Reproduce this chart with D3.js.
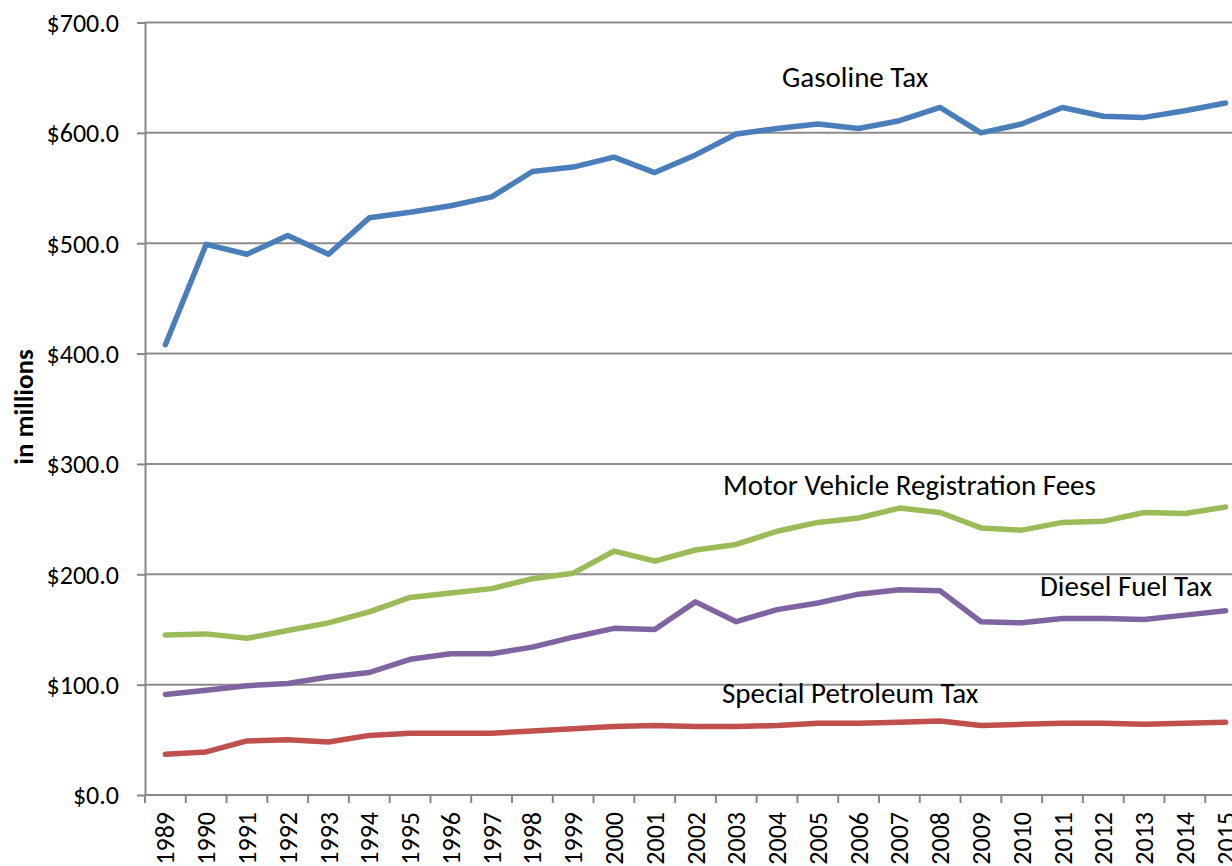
<!DOCTYPE html>
<html>
<head>
<meta charset="utf-8">
<script src="https://cdn.jsdelivr.net/npm/d3@7"></script>
<style>
  body { margin: 0; background: #fff; overflow: hidden; }
  svg { display: block; font-family: Carlito, Calibri, "Open Sans", sans-serif; }
  .axis path, .axis line { stroke: #878787; stroke-width: 2; }
  .axis text { fill: #000; font-size: 26px; font-family: Carlito, Calibri, "Open Sans", sans-serif; }
  .grid line { stroke: #8c8c8c; stroke-width: 2; }
  .series { fill: none; stroke-width: 5.5; stroke-linejoin: round; stroke-linecap: round; }
  .label { font-size: 29px; fill: #000; }
</style>
</head>
<body>
<div id="chart"></div>
<script>
var years = [1989, 1990, 1991, 1992, 1993, 1994, 1995, 1996, 1997, 1998, 1999, 2000, 2001, 2002,
  2003, 2004, 2005, 2006, 2007, 2008, 2009, 2010, 2011, 2012, 2013, 2014, 2015];

var gasolineTax = [408, 499, 490, 507, 490, 523, 528, 534, 542, 565, 569, 578, 564, 580,
  599, 604, 608, 604, 611, 623, 600, 608, 623, 615, 614, 620, 627];

var motorVehicleFees = [145, 146, 142, 149, 156, 166, 179, 183, 187, 196, 201, 221, 212, 222,
  227, 239, 247, 251, 260, 256, 242, 240, 247, 248, 256, 255, 261];

var dieselFuelTax = [91, 95, 99, 101, 107, 111, 123, 128, 128, 134, 143, 151, 150, 175,
  157, 168, 174, 182, 186, 185, 157, 156, 160, 160, 159, 163, 167];

var specialPetroleumTax = [37, 39, 49, 50, 48, 54, 56, 56, 56, 58, 60, 62, 63, 62,
  62, 63, 65, 65, 66, 67, 63, 64, 65, 65, 64, 65, 66];

var yTicks = [0, 100, 200, 300, 400, 500, 600, 700];

var series = [
  {name: 'Gasoline Tax', values: gasolineTax, color: '#4a7ebb', lx: 782, ly: 87},
  {name: 'Motor Vehicle Registration Fees', values: motorVehicleFees, color: '#9bbb59', lx: 723, ly: 495},
  {name: 'Diesel Fuel Tax', values: dieselFuelTax, color: '#8064a2', lx: 1040, ly: 596},
  {name: 'Special Petroleum Tax', values: specialPetroleumTax, color: '#c0504d', lx: 722, ly: 703}
];

var width = 1232, height = 866;
var margin = {top: 22.5, left: 145, bottom: 71};
var plotH = height - margin.top - margin.bottom;
var plotRight = 1246;

var x = d3.scaleBand()
    .domain(years)
    .range([margin.left, plotRight]);

var y = d3.scaleLinear()
    .domain([0, 700])
    .range([margin.top + plotH, margin.top]);

var svg = d3.select('#chart').append('svg')
    .attr('width', width)
    .attr('height', height);

// gridlines
svg.append('g')
    .attr('class', 'grid')
  .selectAll('line')
    .data(yTicks.slice(1))
  .enter().append('line')
    .attr('x1', margin.left)
    .attr('x2', plotRight)
    .attr('y1', d => y(d))
    .attr('y2', d => y(d));

var yAxis = d3.axisLeft(y)
    .tickValues(yTicks)
    .tickSize(8)
    .tickSizeOuter(0)
    .tickPadding(18)
    .tickFormat(d => '$' + d3.format('.1f')(d));

svg.append('g')
    .attr('class', 'y axis')
    .attr('transform', 'translate(' + margin.left + ',0)')
    .call(yAxis)
  .selectAll('text')
    .attr('dy', '0.34em');

// x axis: ticks sit on band boundaries, labels on band centres
var xAxisG = svg.append('g')
    .attr('class', 'x axis')
    .attr('transform', 'translate(0,' + y(0) + ')');

xAxisG.append('line')
    .attr('x1', margin.left)
    .attr('x2', plotRight);

xAxisG.selectAll('.tick-mark')
    .data(years)
  .enter().append('line')
    .attr('class', 'tick-mark')
    .attr('x1', d => x(d))
    .attr('x2', d => x(d))
    .attr('y1', 0)
    .attr('y2', 8);

xAxisG.selectAll('text')
    .data(years)
  .enter().append('text')
    .attr('transform', d => 'translate(' + (x(d) + x.bandwidth() / 2) + ',17) rotate(-90)')
    .attr('text-anchor', 'end')
    .attr('dy', '0.35em')
    .text(d => d);

var line = d3.line()
    .x((d, i) => x(years[i]) + x.bandwidth() / 2)
    .y(d => y(d));

svg.selectAll('.series')
    .data(series)
  .enter().append('path')
    .attr('class', 'series')
    .attr('stroke', d => d.color)
    .attr('d', d => line(d.values));

svg.selectAll('.label')
    .data(series)
  .enter().append('text')
    .attr('class', 'label')
    .attr('x', d => d.lx)
    .attr('y', d => d.ly)
    .text(d => d.name);

svg.append('text')
    .attr('transform', 'translate(33,' + 407 + ') rotate(-90)')
    .attr('text-anchor', 'middle')
    .style('font-size', '27px')
    .style('font-weight', 'bold')
    .text('in millions');
</script>
</body>
</html>
